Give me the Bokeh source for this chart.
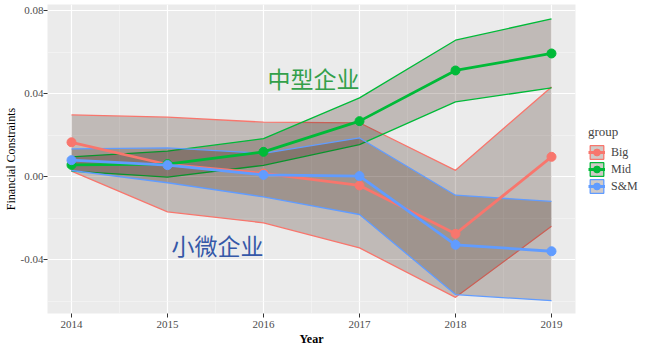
from bokeh.plotting import figure
from bokeh.models import (ColumnDataSource, FixedTicker, Legend, LegendItem,
                          NumeralTickFormatter, Range1d)
from bokeh.core.properties import value
from bokeh.embed import file_html
from bokeh.resources import INLINE

years = [2014, 2015, 2016, 2017, 2018, 2019]
groups = ["Big", "Mid", "S&M"]
colors = ["#F8766D", "#00BA38", "#619CFF"]

big_mean = [0.0165, 0.0058, 0.0015, -0.0043, -0.0276, 0.0095]
big_upper = [0.0297, 0.0286, 0.0262, 0.0259, 0.0030, 0.0432]
big_lower = [0.0026, -0.0170, -0.0223, -0.0344, -0.0582, -0.0240]

mid_mean = [0.0056, 0.0060, 0.0119, 0.0267, 0.0511, 0.0593]
mid_upper = [0.0095, 0.0122, 0.0183, 0.0379, 0.0657, 0.0760]
mid_lower = [0.0026, -0.0003, 0.0054, 0.0154, 0.0360, 0.0427]

sm_mean = [0.0079, 0.0055, 0.0008, 0.0002, -0.0329, -0.0360]
sm_upper = [0.0133, 0.0138, 0.0112, 0.0186, -0.0090, -0.0120]
sm_lower = [0.0029, -0.0030, -0.0098, -0.0183, -0.0569, -0.0598]

means = [big_mean, mid_mean, sm_mean]
uppers = [big_upper, mid_upper, sm_upper]
lowers = [big_lower, mid_lower, sm_lower]

y_ticks = [-0.04, 0.0, 0.04, 0.08]
y_minor = [-0.06, -0.02, 0.02, 0.06]
x_minor = [2014.5, 2015.5, 2016.5, 2017.5, 2018.5]

label_texts = ["中型企业", "小微企业"]
label_x = [2016.52, 2015.52]
label_y = [0.0477, -0.0328]
label_colors = ["#33a04a", "#3558a8"]

SERIF = "Liberation Serif"
FW, FH = 528, 309

p = figure(frame_width=FW, frame_height=FH, output_backend="svg", toolbar_location=None,
           x_range=Range1d(2013.75, 2019.25), y_range=Range1d(-0.066, 0.0829),
           min_border_left=0, min_border_right=0, min_border_top=4, min_border_bottom=0)
p.background_fill_color = "#EBEBEB"
p.border_fill_color = "white"
p.outline_line_color = None

p.xaxis.ticker = FixedTicker(ticks=years, minor_ticks=x_minor)
p.yaxis.ticker = FixedTicker(ticks=y_ticks, minor_ticks=y_minor)
p.yaxis.formatter = NumeralTickFormatter(format="0.00")

for ax in (p.xaxis[0], p.yaxis[0]):
    ax.axis_line_color = None
    ax.major_tick_line_color = "#333333"
    ax.major_tick_out = 4
    ax.major_tick_in = 0
    ax.minor_tick_line_color = None
    ax.major_label_text_font = SERIF
    ax.major_label_text_font_size = "11px"
    ax.major_label_text_color = "#4D4D4D"
    ax.major_label_standoff = 0
    ax.axis_label_text_font = SERIF
    ax.axis_label_text_font_size = "12px"
    ax.axis_label_text_font_style = "normal"
    ax.axis_label_text_color = "black"
    ax.axis_label_standoff = 0

p.xaxis.axis_label = "Year"
p.xaxis.axis_label_text_font_style = "bold"
p.xaxis.major_label_standoff = 3
p.xaxis.axis_label_standoff = 1
p.yaxis.axis_label = "Financial Constraints"

for g in (p.xgrid[0], p.ygrid[0]):
    g.grid_line_color = "white"
    g.grid_line_width = 1.2
    g.minor_grid_line_color = "#F6F6F6"
    g.minor_grid_line_width = 0.6

RIB_FILL = "#2a0c00"
RIB_ALPHA = 0.22

# ribbons
for gname, col, m, u, l in zip(groups, colors, means, uppers, lowers):
    src = ColumnDataSource(dict(x=years, m=m, u=u, l=l))
    p.varea(x="x", y1="l", y2="u", source=src, fill_color=RIB_FILL, fill_alpha=RIB_ALPHA)
    p.line(x="x", y="u", source=src, line_color=col, line_width=1.3)
    p.line(x="x", y="l", source=src, line_color=col, line_width=1.3)

items = []
for gname, col, m, u, l in zip(groups, colors, means, uppers, lowers):
    src = ColumnDataSource(dict(x=years, m=m))
    ln = p.line(x="x", y="m", source=src, line_color=col, line_width=2.8)
    p.scatter(x="x", y="m", source=src, size=9, fill_color=col, line_color=col)
    key = p.rect(x="x", y="m", width=0.01, height=0.0001, source=src,
                 fill_color=RIB_FILL, fill_alpha=RIB_ALPHA,
                 line_color=col, line_width=1.3, visible=False)
    key_pt = p.scatter(x="x", y="m", source=src, size=6, fill_color=col,
                       line_color=col, visible=False)
    items.append(LegendItem(label=gname, renderers=[key, ln, key_pt], index=0))

lsrc = ColumnDataSource(dict(x=label_x, y=label_y, t=label_texts, c=label_colors))
p.text(x="x", y="y", text="t", source=lsrc, text_color="c", text_align="center",
       text_baseline="middle", text_font=value("Noto Sans CJK SC"), text_font_size="23px")

legend = Legend(items=items, title="group", location="left")
legend.title_text_font = SERIF
legend.title_text_font_size = "13px"
legend.title_text_font_style = "normal"
legend.title_standoff = 4
legend.label_text_font = SERIF
legend.label_text_font_size = "12px"
legend.glyph_width = 17
legend.glyph_height = 17
legend.label_height = 17
legend.spacing = 0
legend.label_standoff = 6
legend.padding = 4
legend.margin = 13
legend.border_line_color = None
legend.background_fill_alpha = 0
p.add_layout(legend, "right")

open("out.html", "w").write(file_html(p, INLINE))
